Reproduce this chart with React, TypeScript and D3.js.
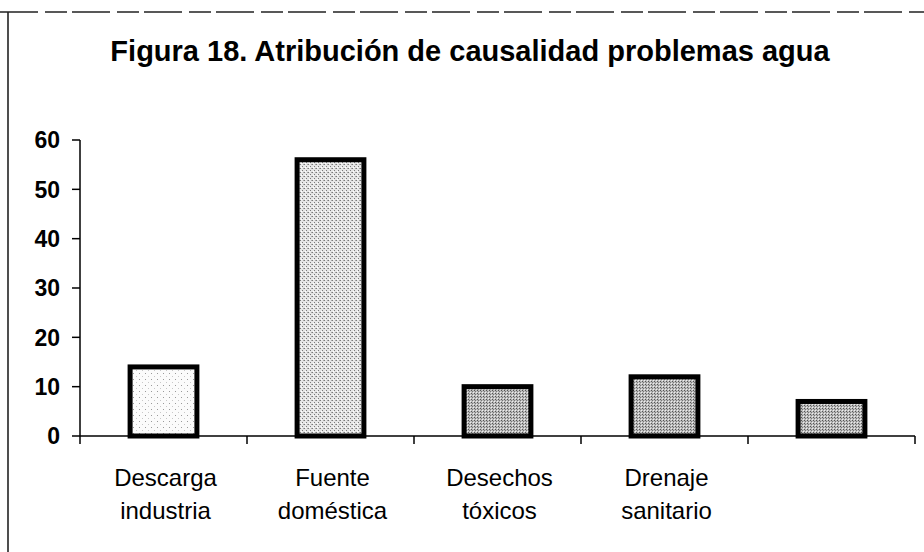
import React from "react";
import * as d3 from "d3";

const TITLE = "Figura 18. Atribución de causalidad problemas agua";
const categories = ["Descarga industria", "Fuente doméstica", "Desechos tóxicos", "Drenaje sanitario", ""];
const categoryLines = [["Descarga", "industria"], ["Fuente", "doméstica"], ["Desechos", "tóxicos"], ["Drenaje", "sanitario"], []];
const values = [14, 56, 10, 12, 7];
const yTicks = [0, 10, 20, 30, 40, 50, 60];
const barPatterns = ["speckleLight", "speckleMedium", "speckleDense", "speckleDense", "speckleDense"];

const W = 924;
const H = 552;
const FONT = "'Liberation Sans', Arial, Helvetica, sans-serif";

export default function App() {
  const left = 80;
  const right = 915;
  const y0 = 436;
  const yTop = 140;

  const x = d3.scaleBand<string>().domain(categories).range([left, right]).paddingInner(0.6).paddingOuter(0.3);
  const y = d3.scaleLinear().domain([0, 60]).range([y0, yTop]);
  const step = x.step();
  const boundaries = d3.range(categories.length + 1).map((i) => left + i * step);

  return (
    <svg width={W} height={H} viewBox={`0 0 ${W} ${H}`} style={{ position: "absolute", left: 0, top: 0, background: "#fff" }}>
      <defs>
        <pattern id="speckleLight" width="6" height="6" patternUnits="userSpaceOnUse">
          <rect width="6" height="6" fill="#fbfbfb" />
          <rect x="1" y="1" width="1" height="1" fill="#9a9a9a" />
          <rect x="4" y="4" width="1" height="1" fill="#c8c8c8" />
        </pattern>
        <pattern id="speckleMedium" width="4" height="4" patternUnits="userSpaceOnUse">
          <rect width="4" height="4" fill="#e6e6e6" />
          <rect x="0" y="0" width="1" height="1" fill="#7a7a7a" />
          <rect x="2" y="2" width="1" height="1" fill="#7a7a7a" />
          <rect x="3" y="0" width="1" height="1" fill="#a8a8a8" />
          <rect x="1" y="3" width="1" height="1" fill="#ffffff" />
        </pattern>
        <pattern id="speckleDense" width="3" height="3" patternUnits="userSpaceOnUse">
          <rect width="3" height="3" fill="#bcbcbc" />
          <rect x="0" y="0" width="1" height="1" fill="#555" />
          <rect x="1" y="1" width="1" height="1" fill="#777" />
          <rect x="2" y="2" width="1" height="1" fill="#eeeeee" />
        </pattern>
      </defs>

      {/* frame (scanned page edges) */}
      <line x1={0} x2={W} y1={12} y2={12} stroke="#222" strokeWidth={1.6} strokeDasharray="38 7 22 5" />
      <line x1={8} x2={8} y1={12} y2={H} stroke="#222" strokeWidth={1.6} />

      {/* title */}
      <text x={470} y={61} textAnchor="middle" fontFamily={FONT} fontWeight="bold" fontSize={29} fill="#000">
        {TITLE}
      </text>

      {/* y axis */}
      <line x1={left} x2={left} y1={y(60)} y2={y(0)} stroke="#000" strokeWidth={1.5} />
      {yTicks.map((t) => (
        <g key={t}>
          <line x1={left - 8} x2={left} y1={y(t)} y2={y(t)} stroke="#000" strokeWidth={1.5} />
          <text x={60} y={y(t)} dy="0.36em" textAnchor="end" fontFamily={FONT} fontWeight="bold" fontSize={23} fill="#000">
            {t}
          </text>
        </g>
      ))}

      {/* bars */}
      {categories.map((c, i) => (
        <rect
          key={i}
          x={x(c)!}
          y={y(values[i])}
          width={x.bandwidth()}
          height={y(0) - y(values[i])}
          fill={`url(#${barPatterns[i]})`}
          stroke="#000"
          strokeWidth={5}
        />
      ))}

      {/* x axis */}
      <line x1={left} x2={right} y1={y0} y2={y0} stroke="#000" strokeWidth={1.5} />
      {boundaries.map((b, i) => (
        <line key={i} x1={b} x2={b} y1={y0} y2={y0 + 8} stroke="#000" strokeWidth={1.5} />
      ))}

      {/* category labels */}
      {categories.map((c, i) => (
        <text key={i} textAnchor="middle" fontFamily={FONT} fontSize={24} fill="#000">
          {categoryLines[i].map((ln, j) => (
            <tspan key={j} x={x(c)! + x.bandwidth() / 2 + 2} y={486 + j * 33}>
              {ln}
            </tspan>
          ))}
        </text>
      ))}
    </svg>
  );
}
